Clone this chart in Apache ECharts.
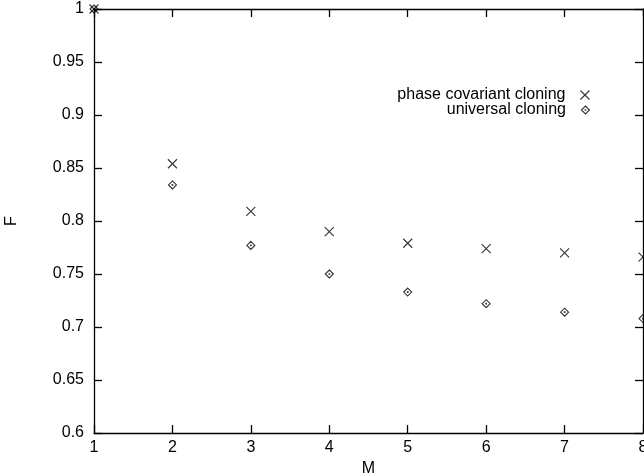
<!DOCTYPE html>
<html>
<head>
<meta charset="utf-8">
<script src="https://cdn.jsdelivr.net/npm/echarts@6/dist/echarts.min.js"></script>
<style>html,body{margin:0;padding:0;background:#fff}#c{width:644px;height:474px}</style>
</head>
<body>
<div id="c"></div>
<script>
const M = [1, 2, 3, 4, 5, 6, 7, 8];
const phaseCovariant = [1.0, 0.854, 0.809, 0.790, 0.779, 0.774, 0.770, 0.766];
const universal = [1.0, 0.834, 0.777, 0.750, 0.733, 0.722, 0.714, 0.708];
const seriesNames = ['phase covariant cloning', 'universal cloning'];

const crossPath = 'path://M0,0L10,10M10,0L0,10';
const diamondPath = 'path://M5,0L10,5L5,10L0,5Z M4.6,4.6L5.4,4.6L5.4,5.4L4.6,5.4Z';
const FONT = 'Liberation Sans';
const FS = 16;

const chart = echarts.init(document.getElementById('c'), null, {renderer: 'canvas'});
const axisLine = {show: true, lineStyle: {color: '#000', width: 1.3}};
const axisTick = {show: true, inside: true, length: 8, lineStyle: {color: '#000', width: 1.3}};
const markStyle = {color: 'transparent', borderColor: '#000', borderWidth: 1.1};
chart.setOption({
  animation: false,
  backgroundColor: '#fff',
  textStyle: {fontFamily: FONT},
  grid: {left: 94, right: 1, top: 9, bottom: 41, containLabel: false, outerBoundsMode: 'none'},
  xAxis: [{
    type: 'value', min: 1, max: 8, interval: 1, position: 'bottom',
    name: 'M', nameLocation: 'middle', nameGap: 26,
    nameTextStyle: {color: '#000', fontSize: FS, fontFamily: FONT},
    axisLine, axisTick, splitLine: {show: false},
    axisLabel: {color: '#000', fontSize: FS, fontFamily: FONT, margin: 7, showMaxLabel: true, showMinLabel: true}
  }, {
    type: 'value', min: 1, max: 8, interval: 1, position: 'top',
    axisLine, axisTick, splitLine: {show: false}, axisLabel: {show: false}
  }],
  yAxis: [{
    type: 'value', min: 0.6, max: 1, interval: 0.05, position: 'left',
    name: 'F', nameLocation: 'middle', nameGap: 74,
    nameTextStyle: {color: '#000', fontSize: FS, fontFamily: FONT},
    axisLine, axisTick, splitLine: {show: false},
    axisLabel: {color: '#000', fontSize: FS, fontFamily: FONT, margin: 10}
  }, {
    type: 'value', min: 0.6, max: 1, interval: 0.05, position: 'right',
    axisLine, axisTick, splitLine: {show: false}, axisLabel: {show: false}
  }],
  legend: [{
    data: [{name: seriesNames[0], icon: crossPath}],
    align: 'right', right: 49, top: 82, itemWidth: 9, itemHeight: 9,
    selectedMode: false, itemStyle: markStyle,
    textStyle: {color: '#000', fontSize: FS, fontFamily: FONT, padding: [0, 10, 0, 0]}
  }, {
    data: [{name: seriesNames[1], icon: diamondPath}],
    align: 'right', right: 49, top: 97, itemWidth: 8, itemHeight: 8,
    selectedMode: false, itemStyle: markStyle,
    textStyle: {color: '#000', fontSize: FS, fontFamily: FONT, padding: [0, 10.5, 0, 0]}
  }],
  series: [{
    name: seriesNames[0], type: 'scatter', symbol: crossPath, symbolSize: 9,
    symbolKeepAspect: true, clip: false,
    itemStyle: markStyle,
    data: M.map((m, i) => [m, phaseCovariant[i]])
  }, {
    name: seriesNames[1], type: 'scatter', symbol: diamondPath, symbolSize: 8,
    symbolKeepAspect: true, clip: false,
    itemStyle: markStyle,
    data: M.map((m, i) => [m, universal[i]])
  }]
});
</script>
</body>
</html>
